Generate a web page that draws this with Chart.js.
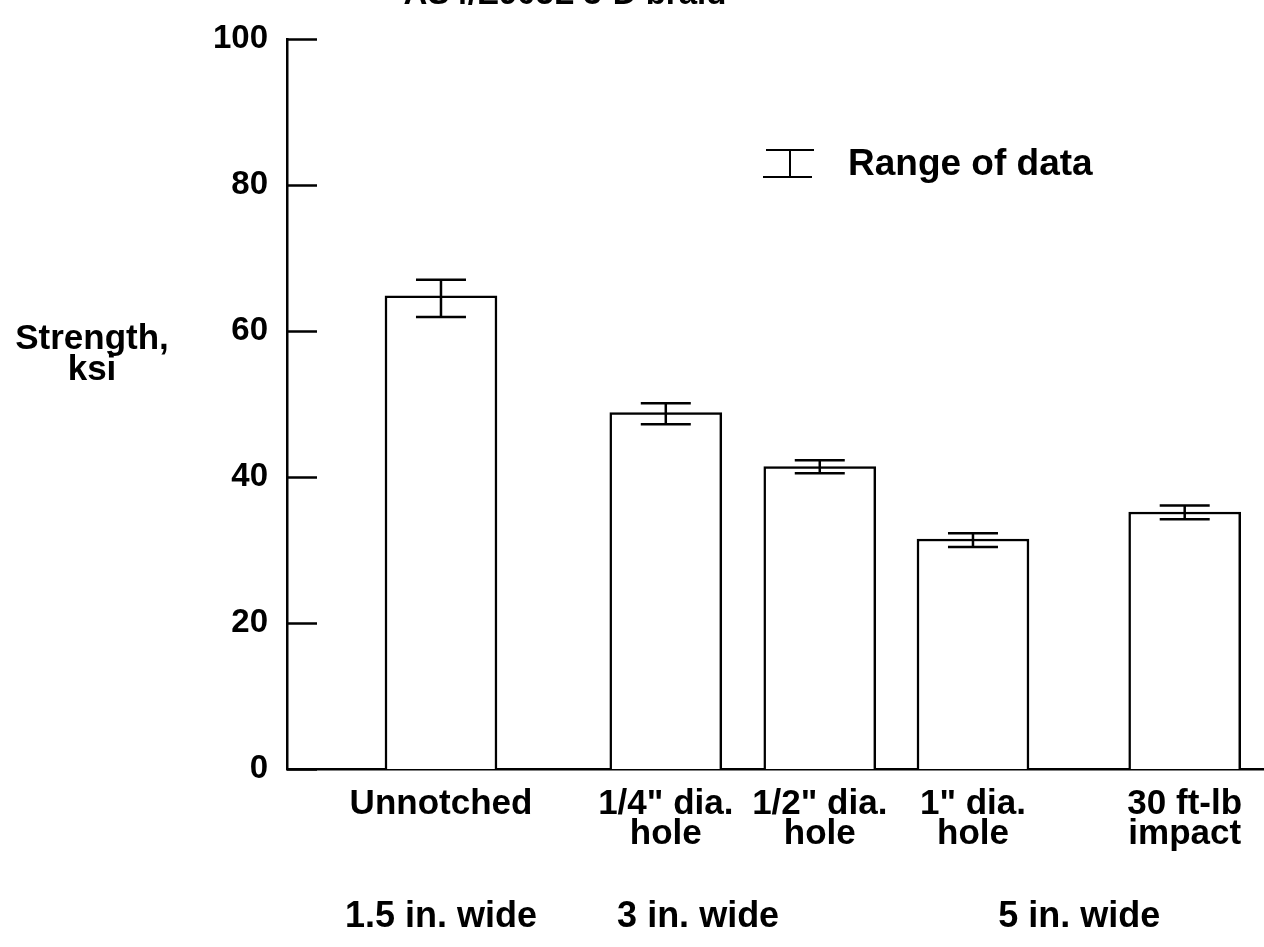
<!DOCTYPE html>
<html>
<head>
<meta charset="utf-8">
<script src="https://cdn.jsdelivr.net/npm/chart.js@4.4.1/dist/chart.umd.min.js"></script>
<style>
html, body { margin: 0; padding: 0; background: #fff; }
#wrap { width: 1264px; height: 947px; position: relative; }
</style>
</head>
<body>
<div id="wrap"><canvas id="grafico"></canvas></div>
<script>
// DADOS
var titleText = 'AS4/E905L 3-D braid';
var categories = [
  ['Unnotched'],
  ['1/4" dia.', 'hole'],
  ['1/2" dia.', 'hole'],
  ['1" dia.', 'hole'],
  ['30 ft-lb', 'impact']
];
var strength = [64.8, 48.8, 41.4, 31.5, 35.2];
var rangeHigh = [67.0, 50.1, 42.3, 32.3, 36.1];
var rangeLow = [61.9, 47.2, 40.5, 30.4, 34.2];
var groups = ['1.5 in. wide', '3 in. wide', '5 in. wide'];
var yTicks = [0, 20, 40, 60, 80, 100];

// slot positions along the x axis (bars are not evenly spaced)
var slots = [2.0, 4.92, 6.92, 8.91, 11.66];
var groupSlots = [2.0, 5.34, 10.29];

var FONT = 'Liberation Sans, Arial, Helvetica, sans-serif';

var extras = {
  id: 'extras',
  afterDatasetsDraw: function (chart) {
    var ctx = chart.ctx;
    var xs = chart.scales.x, ys = chart.scales.y;
    ctx.save();
    ctx.strokeStyle = '#000';
    ctx.fillStyle = '#000';
    ctx.lineWidth = 2.5;

    // marcas do eixo y, para dentro
    yTicks.forEach(function (v) {
      var y = Math.round(ys.getPixelForValue(v)) + 0.5;
      ctx.beginPath();
      ctx.moveTo(xs.left, y);
      ctx.lineTo(xs.left + 30, y);
      ctx.stroke();
    });

    // barras de erro
    for (var i = 0; i < strength.length; i++) {
      var x = xs.getPixelForValue(slots[i]);
      var yh = ys.getPixelForValue(rangeHigh[i]);
      var yl = ys.getPixelForValue(rangeLow[i]);
      ctx.beginPath();
      ctx.moveTo(x, yh); ctx.lineTo(x, yl);
      ctx.moveTo(x - 25, yh); ctx.lineTo(x + 25, yh);
      ctx.moveTo(x - 25, yl); ctx.lineTo(x + 25, yl);
      ctx.stroke();
    }

    // legenda
    ctx.lineWidth = 2;
    ctx.beginPath();
    ctx.moveTo(790, 150); ctx.lineTo(790, 177);
    ctx.moveTo(766, 150); ctx.lineTo(814, 150);
    ctx.moveTo(763, 177); ctx.lineTo(812, 177);
    ctx.stroke();
    ctx.font = 'bold 37px ' + FONT;
    ctx.textAlign = 'left';
    ctx.textBaseline = 'middle';
    ctx.fillText('Range of data', 848, 165);

    // titulo do eixo y
    ctx.font = 'bold 35px ' + FONT;
    ctx.textAlign = 'center';
    ctx.fillText('Strength,', 92, 339);
    ctx.fillText('ksi', 92, 370);

    // grupos
    ctx.font = 'bold 36px ' + FONT;
    groups.forEach(function (g, k) {
      ctx.fillText(g, xs.getPixelForValue(groupSlots[k]), 917);
    });

    // titulo (cortado no topo)
    ctx.font = 'bold 33px ' + FONT;
    ctx.textBaseline = 'alphabetic';
    ctx.fillText(titleText, 565, 4);
    ctx.restore();
  }
};

new Chart(document.getElementById('grafico'), {
  type: 'bar',
  data: {
    datasets: [{
      data: strength.map(function (v, i) { return { x: slots[i], y: v }; }),
      backgroundColor: '#fff',
      borderColor: '#000',
      borderWidth: 2.5,
      barThickness: 112
    }]
  },
  options: {
    responsive: true,
    maintainAspectRatio: false,
    animation: false,
    layout: { padding: { top: 30, right: 0, left: 0, bottom: 0 } },
    plugins: { legend: { display: false }, tooltip: { enabled: false } },
    scales: {
      x: {
        type: 'linear',
        min: 0,
        max: 12.69,
        offset: false,
        grid: { display: false, drawTicks: false },
        border: { display: true, color: '#000', width: 2.5 },
        afterBuildTicks: function (axis) {
          axis.ticks = slots.map(function (v) { return { value: v }; });
        },
        afterFit: function (axis) { axis.height = 178; },
        ticks: {
          autoSkip: false,
          maxRotation: 0,
          padding: 20,
          color: '#000',
          font: { family: FONT, size: 35, weight: 'bold', lineHeight: 0.86 },
          callback: function (v, i) { return categories[i]; }
        }
      },
      y: {
        min: 0,
        max: 100,
        grid: { display: false, drawTicks: false },
        border: { display: true, color: '#000', width: 2.5 },
        afterBuildTicks: function (axis) {
          axis.ticks = yTicks.map(function (v) { return { value: v }; });
        },
        afterFit: function (axis) { axis.width = 287; },
        ticks: {
          padding: 19,
          color: '#000',
          font: { family: FONT, size: 33, weight: 'bold' }
        }
      }
    }
  },
  plugins: [extras]
});
</script>
</body>
</html>
